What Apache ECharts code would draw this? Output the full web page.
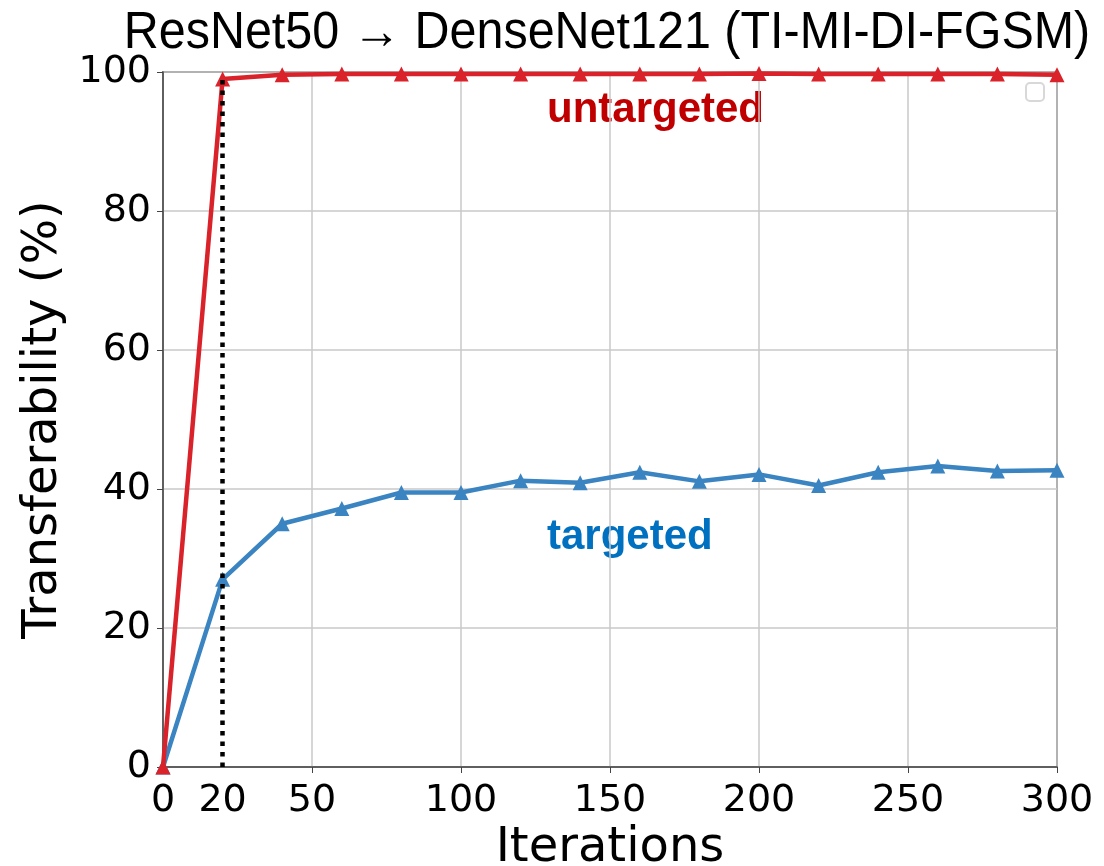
<!DOCTYPE html>
<html>
<head>
<meta charset="utf-8">
<script src="https://cdn.jsdelivr.net/npm/echarts@6/dist/echarts.min.js"></script>
<style>
  html, body { margin: 0; padding: 0; background: #fff; }
  #chart { width: 1104px; height: 866px; }
</style>
</head>
<body>
<div id="chart"></div>
<script>
// data
var iterations = [0, 20, 40, 60, 80, 100, 120, 140, 160, 180, 200, 220, 240, 260, 280, 300];
var untargeted = [0, 99.0, 99.6, 99.7, 99.7, 99.7, 99.7, 99.7, 99.7, 99.7, 99.8, 99.7, 99.7, 99.7, 99.7, 99.6];
var targeted = [0, 27.0, 35.0, 37.2, 39.5, 39.5, 41.2, 40.9, 42.4, 41.1, 42.1, 40.5, 42.4, 43.3, 42.6, 42.7];
var xLabels = [0, 20, 50, 100, 150, 200, 250, 300];
var cutoff = 20;

var chart = echarts.init(document.getElementById('chart'));

function pairs(ys) {
  return iterations.map(function (x, i) { return [x, ys[i]]; });
}

var option = {
  animation: false,
  grid: {
    left: 163, right: 47, top: 72, bottom: 99,
    outerBoundsMode: 'none',
    containLabel: false,
    show: true, borderColor: '#444', borderWidth: 1.5
  },
  xAxis: {
    type: 'value',
    min: 0, max: 300, interval: 50,
    name: 'Iterations',
    nameLocation: 'middle',
    nameGap: 55,
    nameTextStyle: { fontFamily: 'DejaVu Sans', fontSize: 48, color: '#000' },
    axisLine: { onZero: false, lineStyle: { color: '#444', width: 1.5 } },
    axisTick: { show: true, length: 6, lineStyle: { color: '#444' } },
    axisLabel: {
      customValues: xLabels,
      fontFamily: 'DejaVu Sans', fontSize: 38, color: '#000', margin: 15
    },
    splitLine: { show: true, lineStyle: { color: '#c8c8c8', width: 1.5 } }
  },
  yAxis: {
    type: 'value',
    min: 0, max: 100, interval: 20,
    name: 'Transferability (%)',
    nameLocation: 'middle',
    nameGap: 93,
    nameTextStyle: { fontFamily: 'DejaVu Sans', fontSize: 48, color: '#000' },
    axisLine: { show: true, lineStyle: { color: '#444', width: 1.5 } },
    axisTick: { show: true, length: 6, lineStyle: { color: '#444' } },
    axisLabel: { fontFamily: 'DejaVu Sans', fontSize: 38, color: '#000', margin: 12 },
    splitLine: { show: true, lineStyle: { color: '#c8c8c8', width: 1.5 } }
  },
  series: [
    {
      name: 'targeted',
      type: 'line',
      data: pairs(targeted),
      symbol: 'triangle',
      symbolSize: 15,
      showAllSymbol: true,
      lineStyle: { color: '#3a84c1', width: 4.5 },
      itemStyle: { color: '#3a84c1' },
      z: 3
    },
    {
      name: 'untargeted',
      type: 'line',
      data: pairs(untargeted),
      symbol: 'triangle',
      symbolSize: 15,
      showAllSymbol: true,
      lineStyle: { color: '#d9222a', width: 4.5 },
      itemStyle: { color: '#d9222a' },
      z: 4,
      markLine: {
        silent: true,
        symbol: 'none',
        label: { show: false },
        lineStyle: { color: '#000', type: [4.5, 6], width: 4.5 },
        data: [[{ coord: [cutoff, 0] }, { coord: [cutoff, untargeted[1]] }]],
        z: 5
      }
    }
  ],
  graphic: [
    {
      // title drawn as text so it can be narrowed a bit like the original
      type: 'text', x: 607, y: 8, scaleX: 0.95, originX: 0,
      style: {
        text: 'ResNet50 \u2192 DenseNet121 (TI-MI-DI-FGSM)',
        fill: '#000', font: '51px "Liberation Sans"', align: 'center'
      }
    },
    {
      type: 'text', left: 547, top: 89,
      style: { text: 'untargeted', fill: '#c00000', font: 'bold 42px "Liberation Sans"' }
    },
    {
      type: 'text', left: 547, top: 516,
      style: { text: 'targeted', fill: '#0070c0', font: 'bold 42px "Liberation Sans"' }
    },
    {
      type: 'rect', left: 1025, top: 82,
      shape: { width: 18, height: 18, r: 4 },
      style: { fill: '#fff', stroke: '#d8d8d8', lineWidth: 2 }
    }
  ]
};

chart.setOption(option);
</script>
</body>
</html>
